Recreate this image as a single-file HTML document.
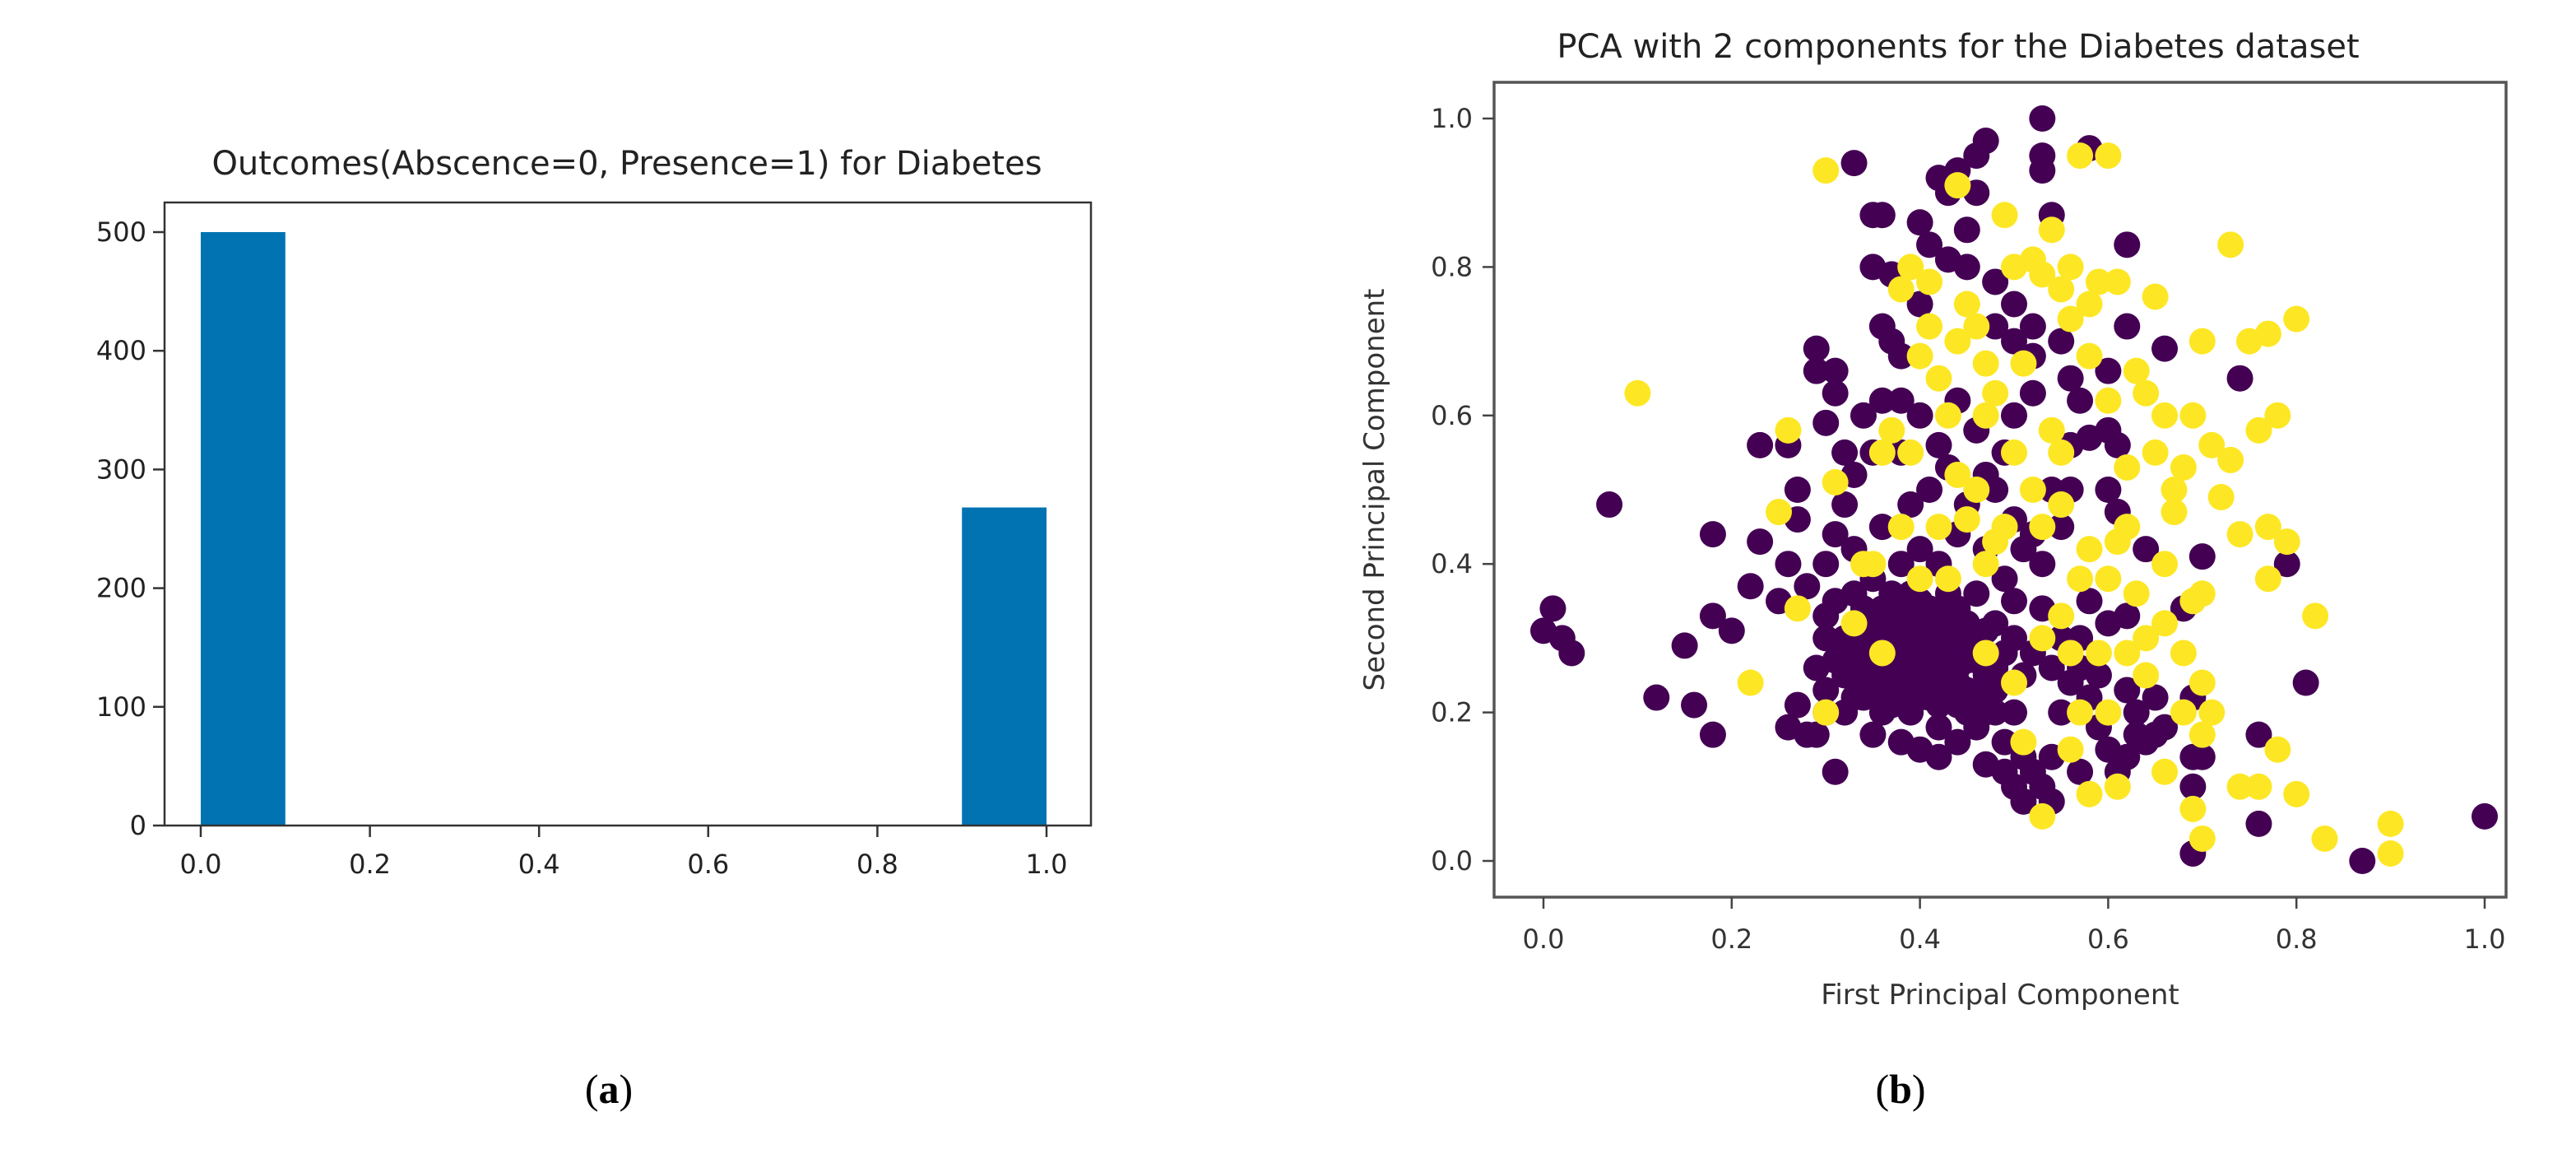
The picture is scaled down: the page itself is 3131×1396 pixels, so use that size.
<!DOCTYPE html>
<html><head><meta charset="utf-8"><style>
html,body{margin:0;padding:0;background:#fff;}
svg{display:block;font-family:"DejaVu Sans","Liberation Sans",sans-serif;}
</style></head><body>
<svg id="fig" width="3131" height="1396" viewBox="0 0 3131 1396" xmlns="http://www.w3.org/2000/svg">
<g id="histA"></g>
<g id="scatB"></g>
<text x="740" y="1340" font-family="Liberation Serif,serif" font-size="50" text-anchor="middle">(<tspan font-weight="bold">a</tspan>)</text>
<text x="2310" y="1340" font-family="Liberation Serif,serif" font-size="50" text-anchor="middle">(<tspan font-weight="bold">b</tspan>)</text>
</svg>
<script>
const NS="http://www.w3.org/2000/svg";
// ---- Histogram data ----
const histBinStarts=[0.0,0.9];
const histCounts=[500,268];
const histBinWidth=0.1;
const histXTicks=[0.0,0.2,0.4,0.6,0.8,1.0];
const histXTickLabels=["0.0","0.2","0.4","0.6","0.8","1.0"];
const histYTicks=[0,100,200,300,400,500];
// ---- Scatter data ----
const pcaXTicks=[0.0,0.2,0.4,0.6,0.8,1.0];
const pcaXTickLabels=["0.0","0.2","0.4","0.6","0.8","1.0"];
const pcaYTicks=[0.0,0.2,0.4,0.6,0.8,1.0];
const pcaYTickLabels=["0.0","0.2","0.4","0.6","0.8","1.0"];
const absentPoints=[[0,0.31],[0.01,0.34],[0.02,0.3],[0.03,0.28],[0.07,0.48],[0.12,0.22],[0.15,0.29],[0.16,0.21],[0.18,0.17],[0.18,0.33],[0.18,0.44],[0.2,0.31],[0.23,0.56],[0.23,0.43],[0.22,0.37],[0.26,0.56],[0.27,0.5],[0.27,0.46],[0.26,0.4],[0.25,0.35],[0.26,0.18],[0.27,0.21],[0.28,0.17],[0.29,0.17],[0.31,0.12],[0.3,0.2],[0.29,0.69],[0.29,0.66],[0.31,0.66],[0.3,0.59],[0.31,0.63],[0.33,0.94],[0.35,0.87],[0.36,0.87],[0.35,0.8],[0.37,0.79],[0.4,0.86],[0.42,0.92],[0.43,0.9],[0.44,0.93],[0.46,0.95],[0.47,0.97],[0.46,0.9],[0.45,0.85],[0.41,0.83],[0.43,0.81],[0.45,0.8],[0.48,0.78],[0.53,1.0],[0.53,0.93],[0.53,0.95],[0.54,0.87],[0.58,0.96],[0.62,0.83],[0.62,0.72],[0.66,0.69],[0.74,0.65],[0.36,0.72],[0.37,0.7],[0.38,0.68],[0.36,0.62],[0.34,0.6],[0.35,0.55],[0.33,0.52],[0.32,0.48],[0.31,0.44],[0.33,0.42],[0.36,0.45],[0.39,0.48],[0.41,0.5],[0.43,0.53],[0.45,0.48],[0.47,0.52],[0.49,0.55],[0.5,0.6],[0.52,0.63],[0.5,0.7],[0.52,0.72],[0.55,0.7],[0.56,0.65],[0.57,0.62],[0.56,0.56],[0.58,0.57],[0.6,0.58],[0.61,0.56],[0.6,0.5],[0.6,0.66],[0.61,0.47],[0.64,0.42],[0.56,0.5],[0.55,0.45],[0.53,0.4],[0.51,0.42],[0.49,0.38],[0.47,0.42],[0.44,0.44],[0.42,0.4],[0.4,0.42],[0.38,0.4],[0.37,0.36],[0.35,0.38],[0.33,0.36],[0.31,0.35],[0.3,0.33],[0.3,0.3],[0.31,0.27],[0.32,0.25],[0.33,0.31],[0.34,0.28],[0.35,0.33],[0.35,0.26],[0.36,0.23],[0.37,0.3],[0.38,0.27],[0.38,0.33],[0.39,0.24],[0.39,0.2],[0.4,0.3],[0.4,0.35],[0.41,0.27],[0.41,0.22],[0.42,0.32],[0.42,0.18],[0.43,0.25],[0.43,0.29],[0.44,0.21],[0.44,0.34],[0.45,0.27],[0.45,0.23],[0.46,0.3],[0.46,0.18],[0.47,0.25],[0.47,0.13],[0.48,0.2],[0.48,0.32],[0.49,0.16],[0.5,0.1],[0.51,0.08],[0.52,0.12],[0.53,0.1],[0.54,0.08],[0.54,0.14],[0.55,0.2],[0.56,0.24],[0.57,0.3],[0.58,0.22],[0.59,0.18],[0.6,0.15],[0.61,0.12],[0.62,0.14],[0.63,0.17],[0.64,0.16],[0.62,0.23],[0.65,0.22],[0.66,0.18],[0.68,0.34],[0.69,0.22],[0.69,0.14],[0.69,0.1],[0.7,0.14],[0.69,0.01],[0.7,0.41],[0.76,0.17],[0.76,0.05],[0.79,0.4],[0.81,0.24],[0.87,0.0],[1.0,0.06],[0.34,0.22],[0.36,0.2],[0.38,0.16],[0.4,0.15],[0.36,0.3],[0.33,0.26],[0.32,0.3],[0.34,0.34],[0.37,0.24],[0.39,0.36],[0.41,0.34],[0.43,0.36],[0.45,0.32],[0.44,0.26],[0.42,0.24],[0.4,0.26],[0.46,0.36],[0.48,0.26],[0.5,0.3],[0.52,0.28],[0.54,0.26],[0.53,0.34],[0.55,0.3],[0.57,0.26],[0.32,0.28],[0.33,0.22],[0.34,0.25],[0.35,0.3],[0.36,0.27],[0.36,0.34],[0.37,0.21],[0.37,0.33],[0.38,0.23],[0.38,0.3],[0.39,0.27],[0.39,0.32],[0.4,0.22],[0.4,0.28],[0.41,0.25],[0.41,0.31],[0.42,0.21],[0.42,0.28],[0.43,0.22],[0.43,0.33],[0.44,0.24],[0.44,0.3],[0.45,0.2],[0.46,0.22],[0.46,0.27],[0.47,0.2],[0.47,0.31],[0.48,0.23],[0.49,0.28],[0.5,0.2],[0.5,0.35],[0.51,0.25],[0.38,0.55],[0.4,0.6],[0.42,0.56],[0.44,0.62],[0.46,0.58],[0.48,0.5],[0.5,0.46],[0.52,0.44],[0.54,0.5],[0.5,0.75],[0.52,0.68],[0.48,0.72],[0.4,0.75],[0.38,0.62],[0.32,0.55],[0.3,0.4],[0.28,0.37],[0.29,0.26],[0.3,0.23],[0.32,0.2],[0.35,0.17],[0.42,0.14],[0.44,0.16],[0.49,0.12],[0.51,0.14],[0.57,0.12],[0.59,0.25],[0.6,0.32],[0.62,0.33],[0.58,0.35],[0.63,0.2],[0.65,0.17]];
const presentPoints=[[0.1,0.63],[0.22,0.24],[0.25,0.47],[0.26,0.58],[0.3,0.93],[0.3,0.2],[0.31,0.51],[0.34,0.4],[0.36,0.55],[0.37,0.58],[0.38,0.77],[0.39,0.8],[0.4,0.68],[0.41,0.72],[0.42,0.65],[0.43,0.6],[0.44,0.91],[0.45,0.75],[0.46,0.72],[0.47,0.6],[0.48,0.63],[0.49,0.87],[0.5,0.8],[0.51,0.67],[0.52,0.81],[0.53,0.79],[0.54,0.85],[0.55,0.77],[0.56,0.73],[0.57,0.95],[0.6,0.95],[0.59,0.78],[0.61,0.78],[0.58,0.68],[0.6,0.62],[0.62,0.53],[0.63,0.66],[0.65,0.76],[0.66,0.6],[0.67,0.5],[0.68,0.53],[0.69,0.6],[0.7,0.7],[0.71,0.56],[0.72,0.49],[0.73,0.83],[0.73,0.54],[0.74,0.44],[0.75,0.7],[0.76,0.58],[0.77,0.71],[0.78,0.6],[0.8,0.73],[0.77,0.45],[0.79,0.43],[0.77,0.38],[0.82,0.33],[0.7,0.36],[0.69,0.35],[0.68,0.28],[0.7,0.24],[0.71,0.2],[0.68,0.2],[0.74,0.1],[0.76,0.1],[0.78,0.15],[0.8,0.09],[0.83,0.03],[0.9,0.05],[0.9,0.01],[0.7,0.03],[0.69,0.07],[0.66,0.12],[0.61,0.1],[0.58,0.09],[0.53,0.06],[0.51,0.16],[0.56,0.15],[0.6,0.2],[0.62,0.28],[0.64,0.3],[0.61,0.43],[0.57,0.38],[0.55,0.48],[0.52,0.5],[0.5,0.55],[0.49,0.45],[0.47,0.4],[0.45,0.46],[0.43,0.38],[0.4,0.38],[0.35,0.4],[0.38,0.45],[0.42,0.45],[0.44,0.52],[0.39,0.55],[0.54,0.58],[0.55,0.33],[0.58,0.42],[0.63,0.36],[0.66,0.4],[0.5,0.24],[0.53,0.3],[0.47,0.28],[0.36,0.28],[0.33,0.32],[0.27,0.34],[0.41,0.78],[0.44,0.7],[0.47,0.67],[0.56,0.8],[0.58,0.75],[0.64,0.63],[0.65,0.55],[0.67,0.47],[0.62,0.45],[0.6,0.38],[0.55,0.55],[0.53,0.45],[0.48,0.43],[0.46,0.5],[0.56,0.28],[0.59,0.28],[0.57,0.2],[0.64,0.25],[0.66,0.32],[0.7,0.17]];

function mk(parent,tag,attrs,text){const e=document.createElementNS(NS,tag);for(const k in attrs)e.setAttribute(k,attrs[k]);if(text!==undefined)e.textContent=text;parent.appendChild(e);return e;}

// ===== Panel A =====
(function(){
const g=document.getElementById('histA');
const L=200,R=1326,T=246,B=1003;
const sx=v=>244+v*(1272-244);
const sy=v=>1003-v*(1003-282)/500;
const title=mk(g,'text',{x:762,y:212,'font-size':40,'text-anchor':'middle',fill:'#222'},'Outcomes(Abscence=0, Presence=1) for Diabetes');


histBinStarts.forEach((b,i)=>{
  const r=mk(g,'rect',{x:sx(b),y:sy(histCounts[i]),width:sx(b+histBinWidth)-sx(b),height:sy(0)-sy(histCounts[i]),fill:'#0173b2'});
  
  
});
const fr=mk(g,'rect',{x:L,y:T,width:R-L,height:B-T,fill:'none',stroke:'#333','stroke-width':2.5});


histXTicks.forEach((v,i)=>{
  mk(g,'line',{x1:sx(v),x2:sx(v),y1:B,y2:B+14,stroke:'#333','stroke-width':2.5});
  const t=mk(g,'text',{x:sx(v),y:B+58,'font-size':32,'text-anchor':'middle',fill:'#222'},histXTickLabels[i]);
  
  
});
histYTicks.forEach(v=>{
  mk(g,'line',{x1:L-14,x2:L,y1:sy(v),y2:sy(v),stroke:'#333','stroke-width':2.5});
  const t=mk(g,'text',{x:L-22,y:sy(v)+11,'font-size':32,'text-anchor':'end',fill:'#222'},String(v));
  
  
});
})();

// ===== Panel B =====
(function(){
const g=document.getElementById('scatB');
const L=1816,R=3046,T=100,B=1090;
const sx=v=>1876+v*(3020-1876);
const sy=v=>1046-v*(1046-144);
const title=mk(g,'text',{x:2380,y:70,'font-size':40,'text-anchor':'middle',fill:'#222'},'PCA with 2 components for the Diabetes dataset');


absentPoints.forEach(p=>{
  const c=mk(g,'circle',{cx:sx(p[0]),cy:sy(p[1]),r:16,fill:'#440154'});
  
  
});
presentPoints.forEach(p=>{
  const c=mk(g,'circle',{cx:sx(p[0]),cy:sy(p[1]),r:16,fill:'#fde725'});
  
  
});
const fr=mk(g,'rect',{x:L,y:T,width:R-L,height:B-T,fill:'none',stroke:'#555','stroke-width':3.5});


pcaXTicks.forEach((v,i)=>{
  mk(g,'line',{x1:sx(v),x2:sx(v),y1:B,y2:B+14,stroke:'#444','stroke-width':2.5});
  const t=mk(g,'text',{x:sx(v),y:B+62,'font-size':32,'text-anchor':'middle',fill:'#333'},pcaXTickLabels[i]);
  
  
});
pcaYTicks.forEach((v,i)=>{
  mk(g,'line',{x1:L-14,x2:L,y1:sy(v),y2:sy(v),stroke:'#444','stroke-width':2.5});
  const t=mk(g,'text',{x:L-26,y:sy(v)+11,'font-size':32,'text-anchor':'end',fill:'#333'},pcaYTickLabels[i]);
  
  
});
const xl=mk(g,'text',{x:2431,y:1220,'font-size':34,'text-anchor':'middle',fill:'#333'},'First Principal Component');


const yl=mk(g,'text',{x:0,y:0,'font-size':34,'text-anchor':'middle',fill:'#333',transform:'translate(1682,595) rotate(-90)'},'Second Principal Component');


})();
</script>
</body></html>
